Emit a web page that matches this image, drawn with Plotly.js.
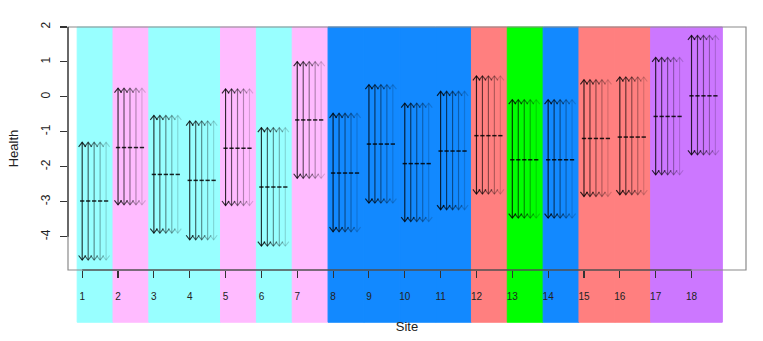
<!DOCTYPE html>
<html>
<head>
<meta charset="utf-8">
<script src="https://cdn.plot.ly/plotly-3.0.1.min.js"></script>
<style>
body{margin:0;background:#fff;}
#myPlot{width:763px;height:341px;}
</style>
</head>
<body>
<div id="myPlot"></div>
<script>
// one interval per site
var sites     = [1, 2, 3, 4, 5, 6, 7, 8, 9, 10, 11, 12, 13, 14, 15, 16, 17, 18];
var siteMean  = [-2.98, -1.45, -2.22, -2.39, -1.47, -2.58, -0.66, -2.18, -1.35, -1.91, -1.55, -1.11, -1.80, -1.80, -1.19, -1.15, -0.56, 0.03];
var siteLow   = [-4.67, -3.09, -3.90, -4.09, -3.11, -4.27, -2.33, -3.86, -3.04, -3.57, -3.23, -2.78, -3.47, -3.47, -2.85, -2.80, -2.23, -1.66];
var siteHigh  = [-1.30, 0.25, -0.53, -0.69, 0.23, -0.88, 1.01, -0.47, 0.35, -0.18, 0.16, 0.60, -0.08, -0.08, 0.49, 0.57, 1.13, 1.76];
var siteColour = ['#98FFFF', '#FFBBFF', '#98FFFF', '#98FFFF', '#FFBBFF', '#98FFFF', '#FFBBFF',
                  '#1289FF', '#1289FF', '#1289FF', '#1289FF', '#FF7F7F', '#00FF00', '#1289FF',
                  '#FF7F7F', '#FF7F7F', '#CC77FF', '#CC77FF'];
var yTicks = [-4, -3, -2, -1, 0, 1, 2];

// the five arrows per site fade out
var chainAlpha = [0.8, 0.62, 0.46, 0.31, 0.16];
var step = 1/6;     // gap between arrows (x units)
var headW = 0.1;    // arrow head half width (x units)
var headH = 0.13;   // arrow head height (y units)
var dashW = 0.06;

var traces = [];
for(var c = 0; c < chainAlpha.length; c++){
	var xs = [], ys = [];
	for(var i = 0; i < sites.length; i++){
		var x = sites[i] + c*step;
		var lo = siteLow[i], hi = siteHigh[i];
		xs.push(x, x, null);                       ys.push(lo, hi, null);
		xs.push(x - headW, x, x + headW, null);    ys.push(hi - headH, hi, hi - headH, null);
		xs.push(x - headW, x, x + headW, null);    ys.push(lo + headH, lo, lo + headH, null);
	}
	traces.push({x: xs, y: ys, type: 'scatter', mode: 'lines', hoverinfo: 'skip',
		line: {color: 'rgba(0,0,0,' + chainAlpha[c] + ')', width: 1.15}});
}

// mean marks, one short dash per arrow
var mx = [], my = [];
for(var i = 0; i < sites.length; i++){
	for(var c = 0; c < chainAlpha.length; c++){
		var x = sites[i] + c*step;
		mx.push(x - dashW, x + dashW, null);
		my.push(siteMean[i], siteMean[i], null);
	}
}
traces.push({x: mx, y: my, type: 'scatter', mode: 'lines', hoverinfo: 'skip',
	line: {color: 'rgba(0,0,0,0.85)', width: 1.5}});

var shapes = [];
for(var i = 0; i < sites.length; i++){
	shapes.push({type: 'rect', layer: 'below', xref: 'x', yref: 'paper',
		x0: sites[i] - 0.14, x1: sites[i] + 0.86, y0: -0.215, y1: 1,
		fillcolor: siteColour[i], line: {color: siteColour[i], width: 1}});
}
// box and the R style axis lines
shapes.push({type: 'rect', layer: 'above', xref: 'paper', yref: 'paper', x0: 0, x1: 1, y0: 0, y1: 1,
	line: {color: '#8a8a8a', width: 1.2}});
shapes.push({type: 'line', layer: 'above', xref: 'x', yref: 'paper',
	x0: sites[0], x1: sites[sites.length-1], y0: 0, y1: 0, line: {color: '#333', width: 1.2}});
shapes.push({type: 'line', layer: 'above', xref: 'paper', yref: 'y',
	x0: 0, x1: 0, y0: yTicks[0], y1: yTicks[yTicks.length-1], line: {color: '#333', width: 1.2}});

var plotLayout = {
	width: 763,
	height: 341,
	margin: {l: 68, r: 17, t: 27, b: 71},
	paper_bgcolor: '#fff',
	plot_bgcolor: 'rgba(0,0,0,0)',
	showlegend: false,
	font: {family: 'Liberation Sans, Arial, sans-serif', color: '#222'},
	xaxis: {
		title: {text: 'Site', font: {size: 13}, standoff: 20},
		range: [0.604, 19.52],
		tickvals: sites,
		ticktext: sites.map(String),
		ticks: 'outside', ticklen: 7, tickcolor: '#333', tickwidth: 1.1,
		ticklabelstandoff: 10,
		tickfont: {size: 10},
		showgrid: false, zeroline: false, showline: false,
	},
	yaxis: {
		title: {text: 'Health', font: {size: 13}, standoff: 17},
		range: [-4.955, 2],
		tickvals: yTicks,
		ticktext: yTicks.map(String),
		tickangle: -90,
		ticks: 'outside', ticklen: 7, tickcolor: '#333', tickwidth: 1.1,
		ticklabelstandoff: 5,
		tickfont: {size: 12},
		showgrid: false, zeroline: false, showline: false,
	},
	shapes: shapes
};

Plotly.newPlot('myPlot', traces, plotLayout, {displayModeBar: false, staticPlot: true});
</script>
</body>
</html>
